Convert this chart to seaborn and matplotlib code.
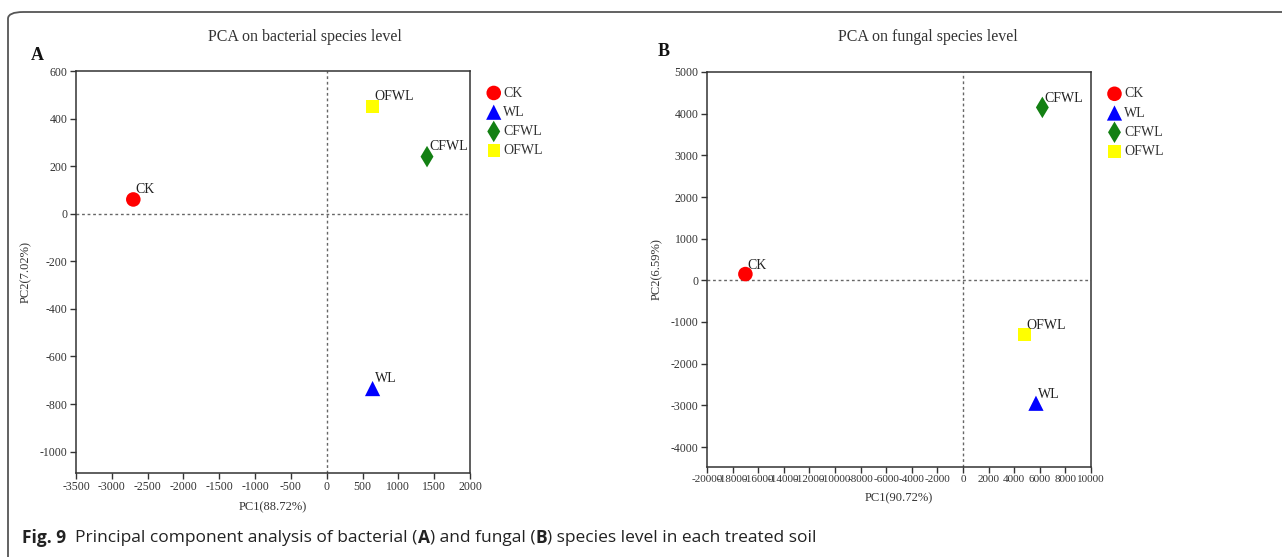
import matplotlib
matplotlib.use("Agg")
import matplotlib.pyplot as plt
import seaborn as sns
import pandas as pd
from matplotlib.patches import FancyBboxPatch

# ---- data ----
groups = ["CK", "WL", "CFWL", "OFWL"]
bact_pc1 = [-2700, 640, 1400, 640]
bact_pc2 = [60, -735, 240, 450]
fung_pc1 = [-17000, 5700, 6200, 4800]
fung_pc2 = [150, -2950, 4150, -1300]

bact_xticks = [-3500, -3000, -2500, -2000, -1500, -1000, -500, 0, 500, 1000, 1500, 2000]
bact_yticks = [600, 400, 200, 0, -200, -400, -600, -800, -1000]
fung_xticks = list(range(-20000, 10001, 2000))
fung_yticks = [5000, 4000, 3000, 2000, 1000, 0, -1000, -2000, -3000, -4000]

caption_parts = [("Fig. 9", True), ("  Principal component analysis of bacterial (", False),
                 ("A", True), (") and fungal (", False), ("B", True),
                 (") species level in each treated soil", False)]

colors = {"CK": "#ff0000", "WL": "#0000ff", "CFWL": "#138013", "OFWL": "#ffff00"}
markers = {"CK": "o", "WL": "^", "CFWL": "d", "OFWL": "s"}
sizes_pt = {"CK": 110, "WL": 120, "CFWL": 120, "OFWL": 80}

sns.set_style("white")
serif = ["Liberation Serif", "DejaVu Serif"]
sans = ["Open Sans", "DejaVu Sans"]
plt.rcParams["font.family"] = serif

fig = plt.figure(figsize=(12.82, 5.57), dpi=100)

# rounded frame
frame = FancyBboxPatch((8 / 1282, -0.2), 1.2, 1 - 12 / 557 + 0.2,
                       boxstyle="round,pad=0,rounding_size=0.012",
                       transform=fig.transFigure, fill=False,
                       edgecolor="#555555", linewidth=1.3, clip_on=False)
fig.patches.append(frame)

axA = fig.add_axes([76 / 1282, 1 - 473 / 557, 394 / 1282, 402 / 557])
axB = fig.add_axes([707 / 1282, 1 - 467 / 557, 384 / 1282, 395 / 557])


def panel(ax, xs, ys, xlim, ylim, xticks, yticks, xlabel, ylabel, title,
          letter, letter_xy, title_x, xtick_fs, dx, dy):
    df = pd.DataFrame({"PC1": xs, "PC2": ys, "Group": groups})
    for g in groups:
        sub = df[df["Group"] == g]
        sns.scatterplot(data=sub, x="PC1", y="PC2", ax=ax, color=colors[g],
                        marker=markers[g], s=sizes_pt[g], edgecolor="none",
                        label=g, zorder=3)
    for x, y, g in zip(xs, ys, groups):
        ax.text(x + dx, y + dy, g, fontsize=10, family=serif, color="#222222",
                ha="left", va="bottom")
    ax.axhline(0, color="#666666", linestyle=(0, (2, 2)), linewidth=1.0, zorder=1)
    ax.axvline(0, color="#666666", linestyle=(0, (2, 2)), linewidth=1.0, zorder=1)
    ax.set_xlim(*xlim)
    ax.set_ylim(*ylim)
    ax.set_xticks(xticks)
    ax.set_yticks(yticks)
    ax.set_xticklabels([str(t) for t in xticks], fontsize=xtick_fs, color="#333333")
    ax.set_yticklabels([str(t) for t in yticks], fontsize=8.5, color="#333333")
    ax.tick_params(axis="both", direction="out", length=4, width=1, color="#333333",
                   bottom=True, left=True, pad=2)
    for sp in ax.spines.values():
        sp.set_color("#333333")
        sp.set_linewidth(1.1)
    ax.set_xlabel(xlabel, fontsize=9, color="#333333", labelpad=6)
    ax.set_ylabel(ylabel, fontsize=9, color="#333333", labelpad=6)
    fig.text(title_x, 1 - 37 / 557, title, fontsize=11.5, family=serif,
             ha="center", va="center", color="#333333")
    fig.text(letter_xy[0], letter_xy[1], letter, fontsize=13, family=serif,
             fontweight="bold", ha="left", va="center", color="#111111")
    leg = ax.legend(loc="upper left", bbox_to_anchor=(1.025, 0.975), frameon=False,
                    fontsize=10, handletextpad=0.1, labelspacing=0.45,
                    borderaxespad=0, handlelength=1.2)
    for t in leg.get_texts():
        t.set_color("#333333")


panel(axA, bact_pc1, bact_pc2, (-3500, 2000), (-1090, 600), bact_xticks, bact_yticks,
      "PC1(88.72%)", "PC2(7.02%)", "PCA on bacterial species level",
      "A", (31 / 1282, 1 - 55 / 557), 305 / 1282, 8.5, 30, 15)
panel(axB, fung_pc1, fung_pc2, (-20000, 10000), (-4480, 5000), fung_xticks, fung_yticks,
      "PC1(90.72%)", "PC2(6.59%)", "PCA on fungal species level",
      "B", (658 / 1282, 1 - 52 / 557), 928 / 1282, 8.0, 120, 60)

# caption, built piece by piece
renderer = fig.canvas.get_renderer()
cap_y = 1 - 538 / 557
x_px = 22
for txt, bold in caption_parts:
    t = fig.text(x_px / 1282, cap_y, txt, fontsize=12.5,
                 fontweight="bold" if bold else "normal", family=sans,
                 ha="left", va="center", color="#222222")
    bb = t.get_window_extent(renderer=renderer)
    x_px += bb.width

fig.savefig("out.png", dpi=100)
